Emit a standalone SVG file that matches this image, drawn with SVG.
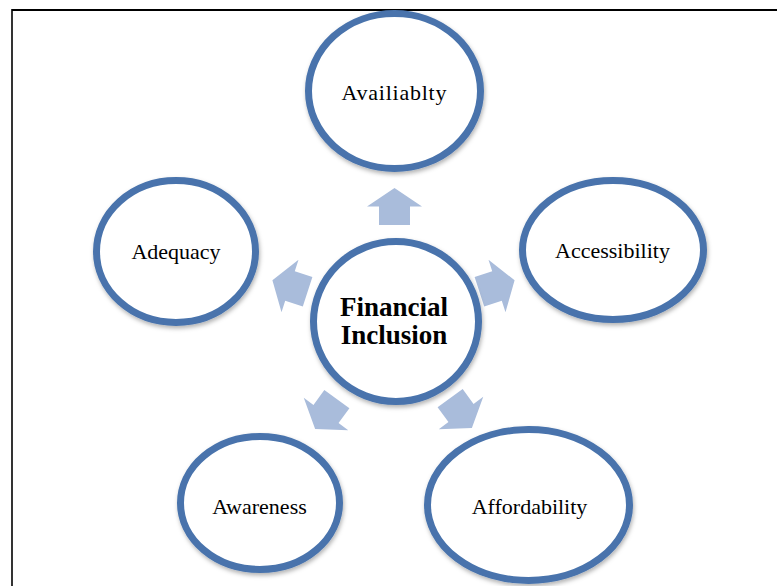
<svg xmlns="http://www.w3.org/2000/svg" width="777" height="586" viewBox="0 0 777 586">
  <defs>
    <filter id="soft" x="-20%" y="-20%" width="140%" height="140%">
      <feDropShadow dx="1" dy="2.5" stdDeviation="2" flood-color="#000" flood-opacity="0.3"/>
    </filter>
    <polygon id="arrow" points="-18.5,-15.5 0,-15.5 0,-27.5 18.5,0 0,27.5 0,15.5 -18.5,15.5"/>
  </defs>
  <style>
    .node { fill: #ffffff; stroke: #4873ac; stroke-width: 7; filter: url(#soft); }
    .lbl { font-family: "Liberation Serif", "Times New Roman", serif; font-size: 22px; fill: #000; text-anchor: middle; }
    .hub { font-family: "Liberation Serif", "Times New Roman", serif; font-size: 27px; font-weight: bold; fill: #000; text-anchor: middle; }
    .arr { fill: #a9bcdb; }
    .frame { stroke: #000; fill: none; }
  </style>

  <rect width="777" height="586" fill="#ffffff"/>

  <!-- page frame -->
  <line class="frame" x1="12" y1="10" x2="777" y2="10" stroke-width="2"/>
  <line class="frame" x1="12" y1="9" x2="12" y2="586" stroke-width="1.6"/>

  <!-- connectors: block arrows pointing outward from the hub -->
  <g id="connectors" class="arr">
    <use href="#arrow" transform="translate(394.5,206.5) rotate(-90)"/>
    <use href="#arrow" transform="translate(497,286) rotate(-18)"/>
    <use href="#arrow" transform="translate(461,413) rotate(54)"/>
    <use href="#arrow" transform="translate(326,414) rotate(126)"/>
    <use href="#arrow" transform="translate(290,286) rotate(198)"/>
  </g>

  <g id="availability">
    <ellipse class="node" cx="394.5" cy="91" rx="86" ry="77.5"/>
    <text class="lbl" x="394" y="100" textLength="105" lengthAdjust="spacing">Availiablty</text>
  </g>

  <g id="accessibility">
    <ellipse class="node" cx="613" cy="250" rx="90.5" ry="69.5"/>
    <text class="lbl" x="612.5" y="258">Accessibility</text>
  </g>

  <g id="adequacy">
    <ellipse class="node" cx="176" cy="251.5" rx="79.5" ry="71"/>
    <text class="lbl" x="176" y="259">Adequacy</text>
  </g>

  <g id="awareness">
    <ellipse class="node" cx="260" cy="503" rx="79.5" ry="66.5"/>
    <text class="lbl" x="259.5" y="514">Awareness</text>
  </g>

  <g id="affordability">
    <ellipse class="node" cx="528.5" cy="505" rx="101" ry="75.5"/>
    <text class="lbl" x="529.5" y="514">Affordability</text>
  </g>

  <g id="financial-inclusion">
    <ellipse class="node" cx="396" cy="321.5" rx="82.5" ry="80"/>
    <text class="hub" x="394" y="316">Financial</text>
    <text class="hub" x="394" y="344">Inclusion</text>
  </g>
</svg>
